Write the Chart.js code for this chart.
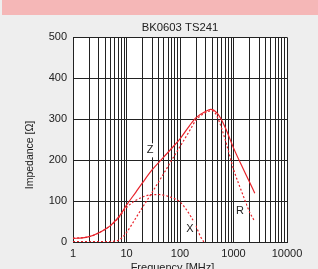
<!DOCTYPE html>
<html>
<head>
<meta charset="utf-8">
<script src="https://cdn.jsdelivr.net/npm/chart.js@4/dist/chart.umd.min.js"></script>
<style>
html, body { margin: 0; padding: 0; overflow: hidden; background: #eeeeee; }
#band { position: absolute; left: 2px; top: 0; width: 316px; height: 15px; background: #f5b7b7; }
#wrap { position: absolute; left: 0; top: 0; width: 318px; height: 280px; }
</style>
</head>
<body>
<div id="band"></div>
<div id="wrap"><canvas id="chart" width="318" height="280"></canvas></div>
<script>
// |Z|
var zFreq = [1, 1.5, 2, 3, 4, 5, 6, 7, 8, 10, 15, 20, 30, 50, 70, 100, 150, 200, 300, 375, 500, 700, 1000, 1500, 2000, 2500];
var zImp  = [9, 10, 13, 22, 31, 40, 50, 60, 70, 90, 122, 145, 176, 208, 229, 252, 284, 304, 319, 324, 314, 280, 230, 180, 146, 119];
// R
var rFreq = [1, 2, 4, 6, 7, 8, 10, 15, 20, 30, 50, 70, 100, 150, 200, 300, 400, 500, 700, 1000, 1500, 2000, 2500];
var rImp  = [1, 1, 1, 2, 4, 9, 23, 59, 85, 121, 168, 200, 233, 271, 298, 316, 321, 305, 250, 178, 115, 73, 50];
// X
var xFreq = [1, 2, 3, 5, 7, 10, 15, 20, 27, 40, 65, 100, 130, 160, 200, 240, 280];
var xImp  = [9, 13, 22, 40, 58, 84, 102, 110, 115, 116, 110, 98, 80, 62, 38, 14, 0];

var xTicks = [1, 10, 100, 1000, 10000];
var yTicks = [0, 100, 200, 300, 400, 500];

// curve labels
var curveNames = ['Z', 'X', 'R'];
var curveFreq  = [27.5, 154, 1320];
var curveImp   = [224, 32, 76];

var RED = 'rgb(232, 35, 43)';
var INK = '#222';
var FONT = '"Liberation Sans", Arial, sans-serif';

function pts(f, v) {
  return f.map(function(x, i) { return { x: x, y: v[i] }; });
}

// 1..9 x 10^k grid lines
var gridValues = [];
for (var e = 0; e < 4; e++) {
  for (var s = 1; s < 10; s++) gridValues.push(s * Math.pow(10, e));
}
gridValues.push(10000);

var extras = {
  id: 'extras',
  beforeDraw: function(chart) {
    var a = chart.chartArea, ctx = chart.ctx;
    ctx.save();
    ctx.fillStyle = '#fff';
    ctx.fillRect(a.left, a.top, a.right - a.left, a.bottom - a.top);
    ctx.restore();
  },
  afterDraw: function(chart) {
    var ctx = chart.ctx;
    var sx = chart.scales.x, sy = chart.scales.y;
    ctx.save();
    ctx.fillStyle = INK;
    ctx.textAlign = 'center';
    ctx.textBaseline = 'middle';
    ctx.font = '11px ' + FONT;
    curveNames.forEach(function(t, i) {
      var px = sx.getPixelForValue(curveFreq[i]);
      var py = sy.getPixelForValue(curveImp[i]);
      var w = ctx.measureText(t).width + 4;
      ctx.fillStyle = '#fff';
      ctx.fillRect(px - w / 2, py - 7, w, 14);
      ctx.fillStyle = INK;
      ctx.fillText(t, px, py);
    });
    ctx.fillText('Frequency [MHz]', 172.5, 268);
    ctx.translate(30, 155);
    ctx.rotate(-Math.PI / 2);
    ctx.font = '10.5px ' + FONT;
    ctx.fillText('Impedance [\u03a9]', 0, 0);
    ctx.restore();
  }
};

new Chart(document.getElementById('chart'), {
  type: 'line',
  data: {
    datasets: [
      { label: 'Z', data: pts(zFreq, zImp), borderColor: RED, borderWidth: 1.2 },
      { label: 'R', data: pts(rFreq, rImp), borderColor: RED, borderWidth: 1.2, borderDash: [2, 2] },
      { label: 'X', data: pts(xFreq, xImp), borderColor: RED, borderWidth: 1.2, borderDash: [2, 2] }
    ]
  },
  options: {
    responsive: false,
    animation: false,
    devicePixelRatio: 1,
    layout: { padding: { left: 0, right: 31, top: 0, bottom: 0 } },
    elements: {
      point: { radius: 0 },
      line: { cubicInterpolationMode: 'monotone', fill: false }
    },
    plugins: {
      legend: { display: false },
      tooltip: { enabled: false },
      title: {
        display: true,
        text: 'BK0603 TS241',
        fullSize: false,
        color: INK,
        font: { family: FONT, size: 11.3, weight: 'normal' },
        padding: { top: 21, bottom: 2.8 }
      }
    },
    scales: {
      x: {
        type: 'logarithmic',
        min: 1,
        max: 10000,
        afterBuildTicks: function(scale) {
          scale.ticks = gridValues.map(function(v) { return { value: v }; });
        },
        afterFit: function(scale) { scale.height = 38; },
        grid: { color: INK, drawTicks: false },
        border: { color: INK },
        ticks: {
          autoSkip: false,
          maxRotation: 0,
          padding: 5,
          color: INK,
          font: { family: FONT, size: 11 },
          callback: function(v) { return xTicks.indexOf(v) >= 0 ? String(v) : ''; }
        }
      },
      y: {
        min: 0,
        max: 500,
        afterBuildTicks: function(scale) {
          scale.ticks = yTicks.map(function(v) { return { value: v }; });
        },
        afterFit: function(scale) { scale.width = 73; },
        grid: { color: INK, drawTicks: false },
        border: { color: INK },
        ticks: {
          padding: 6,
          color: INK,
          font: { family: FONT, size: 11 }
        }
      }
    }
  },
  plugins: [extras]
});
</script>
</body>
</html>
